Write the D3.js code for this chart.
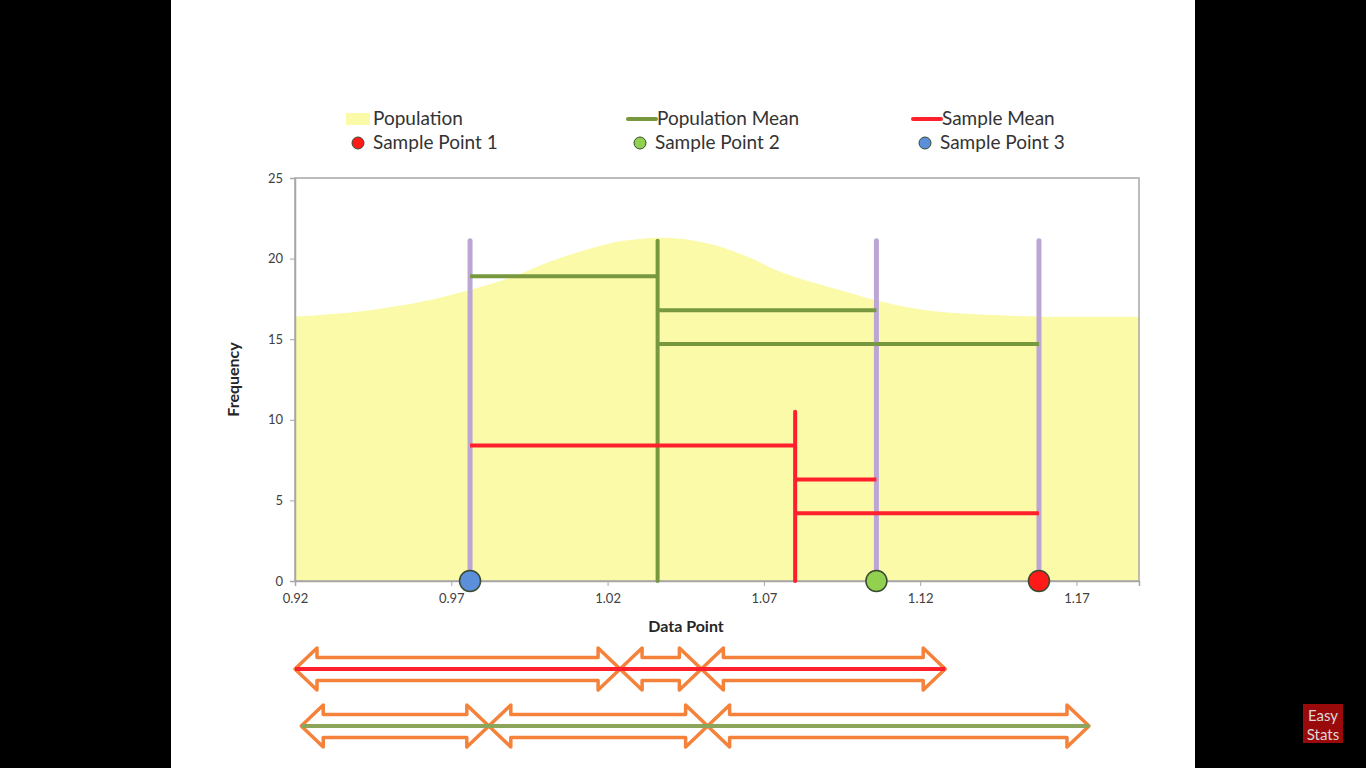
<!DOCTYPE html>
<html lang="en">

<head>
  <meta charset="utf-8">
  <title>Sample Mean vs Population Mean</title>
  <script src="https://d3js.org/d3.v7.min.js" charset="utf-8"></script>
  <style type="text/css">
    body {
      margin: 0;
      background: #000;
    }

    text {
      font-family: Lato, "Liberation Sans", sans-serif;
    }

    .tick text {
      font-size: 13px;
      fill: #404040;
    }

    .tick line,
    .domain {
      stroke: #a6a6a6;
    }
  </style>
</head>

<body>

  <svg id="chart"></svg>

  <script type="text/javascript">
    // population curve
    const popX = [0.92, 0.94, 0.96, 0.975, 0.99, 1.00, 1.014, 1.025, 1.037, 1.045, 1.055, 1.065, 1.075, 1.086, 1.097, 1.106, 1.122, 1.143, 1.16, 1.19];
    const popY = [16.4, 16.7, 17.3, 18.0, 18.9, 19.7, 20.6, 21.1, 21.3, 21.2, 20.8, 20.1, 19.2, 18.5, 17.9, 17.4, 16.8, 16.5, 16.4, 16.4];

    const sampleNames = ["Sample Point 1", "Sample Point 2", "Sample Point 3"];
    const sampleX = [1.158, 1.106, 0.976];
    const sampleColors = ["#ff1a1a", "#92d050", "#5b8fd9"];

    const popMean = 1.036;
    const sampleMean = 1.080;
    const stemTop = 21.1;
    const sampleMeanTop = 10.5;

    // distance bars: order blue, green, red
    const barOrder = [2, 1, 0];
    const popBarY = [18.9, 16.8, 14.7];
    const sampleBarY = [8.4, 6.3, 4.2];

    const xTicks = [0.92, 0.97, 1.02, 1.07, 1.12, 1.17];
    const yTicks = [0, 5, 10, 15, 20, 25];

    const W = 1366, H = 768;
    const plotL = 295, plotR = 1139, plotT = 178, plotB = 581;

    const green = "#77983f";
    const red = "#ff1f2d";
    const purple = "#bba6d6";
    const orange = "#f5823a";

    const svg = d3.select("#chart")
      .attr("width", W)
      .attr("height", H);

    svg.append("rect").attr("width", W).attr("height", H).attr("fill", "#000");
    svg.append("rect").attr("x", 171).attr("width", 1024).attr("height", H).attr("fill", "#fff");

    const x = d3.scaleLinear().domain([0.92, 1.19]).range([plotL, plotR]);
    const y = d3.scaleLinear().domain([0, 25]).range([plotB, plotT]);

    // population area
    const area = d3.area()
      .x(d => x(d[0]))
      .y0(y(0))
      .y1(d => y(d[1]))
      .curve(d3.curveCatmullRom.alpha(0.5));

    svg.append("path")
      .datum(popX.map((v, i) => [v, popY[i]]))
      .attr("d", area)
      .attr("fill", "#fafaa9");

    // frame
    svg.append("rect")
      .attr("x", plotL).attr("y", plotT)
      .attr("width", plotR - plotL).attr("height", plotB - plotT)
      .attr("fill", "none").attr("stroke", "#a6a6a6").attr("stroke-width", 1.5);

    svg.append("g")
      .attr("transform", `translate(${plotL},0)`)
      .call(d3.axisLeft(y).tickValues(yTicks).tickSize(5).tickPadding(7))
      .call(g => g.select(".domain").attr("stroke-width", 1.5));

    svg.append("g")
      .attr("transform", `translate(0,${plotB})`)
      .call(d3.axisBottom(x).tickValues(xTicks).tickSize(5).tickPadding(8).tickFormat(d3.format(".2f")))
      .call(g => g.select(".domain").attr("stroke-width", 1.5));

    svg.append("text")
      .attr("transform", `translate(239,${(plotT + plotB) / 2}) rotate(-90)`)
      .attr("text-anchor", "middle")
      .attr("font-size", 16).attr("font-weight", "bold").attr("fill", "#262626")
      .text("Frequency");

    svg.append("text")
      .attr("x", 686).attr("y", 632)
      .attr("text-anchor", "middle")
      .attr("font-size", 16).attr("font-weight", "bold").attr("fill", "#262626")
      .text("Data Point");

    // purple stems
    svg.selectAll(".stem")
      .data(sampleX)
      .join("line")
      .attr("x1", d => x(d)).attr("x2", d => x(d))
      .attr("y1", y(0)).attr("y2", y(stemTop))
      .attr("stroke", purple).attr("stroke-width", 5).attr("stroke-linecap", "round");

    // population mean
    svg.append("line")
      .attr("x1", x(popMean)).attr("x2", x(popMean))
      .attr("y1", y(0)).attr("y2", y(stemTop))
      .attr("stroke", green).attr("stroke-width", 4).attr("stroke-linecap", "round");

    svg.selectAll(".popbar")
      .data(barOrder)
      .join("line")
      .attr("x1", x(popMean))
      .attr("x2", d => x(sampleX[d]))
      .attr("y1", (d, i) => y(popBarY[i]))
      .attr("y2", (d, i) => y(popBarY[i]))
      .attr("stroke", green).attr("stroke-width", 4);

    // sample mean
    svg.append("line")
      .attr("x1", x(sampleMean)).attr("x2", x(sampleMean))
      .attr("y1", y(0)).attr("y2", y(sampleMeanTop))
      .attr("stroke", red).attr("stroke-width", 4).attr("stroke-linecap", "round");

    svg.selectAll(".sbar")
      .data(barOrder)
      .join("line")
      .attr("x1", x(sampleMean))
      .attr("x2", d => x(sampleX[d]))
      .attr("y1", (d, i) => y(sampleBarY[i]))
      .attr("y2", (d, i) => y(sampleBarY[i]))
      .attr("stroke", red).attr("stroke-width", 4);

    // sample points
    svg.selectAll(".pt")
      .data(sampleX)
      .join("circle")
      .attr("cx", d => x(d)).attr("cy", y(0)).attr("r", 10.5)
      .attr("fill", (d, i) => sampleColors[i])
      .attr("stroke", "#3a4a30").attr("stroke-width", 1.5);

    // legend
    const legend = svg.append("g");
    const legendCols = [346, 628, 913];
    const lg1 = [
      { label: "Population", type: "rect", color: "#fafaa9" },
      { label: "Population Mean", type: "line", color: green },
      { label: "Sample Mean", type: "line", color: red }
    ];
    lg1.forEach((d, i) => {
      const gx = legendCols[i];
      if (d.type === "rect") {
        legend.append("rect").attr("x", gx).attr("y", 113).attr("width", 24).attr("height", 12).attr("fill", d.color);
      } else {
        legend.append("line").attr("x1", gx).attr("x2", gx + 28).attr("y1", 119).attr("y2", 119)
          .attr("stroke", d.color).attr("stroke-width", 4).attr("stroke-linecap", "round");
      }
      legend.append("text").attr("x", gx + (i === 0 ? 27 : 29)).attr("y", 125)
        .attr("font-size", 19).attr("fill", "#333").text(d.label);
    });
    sampleNames.forEach((name, i) => {
      const gx = legendCols[i];
      legend.append("circle").attr("cx", gx + 12).attr("cy", 143).attr("r", 6)
        .attr("fill", sampleColors[i]).attr("stroke", "#3a4a30").attr("stroke-width", 1);
      legend.append("text").attr("x", gx + 27).attr("y", 149)
        .attr("font-size", 19).attr("fill", "#333").text(name);
    });

    // distance arrows laid end to end
    function arrowPath(x0, x1, cy) {
      const h = 22, big = 21, s = 11.5;
      return `M${x0},${cy} L${x0 + h},${cy - big} L${x0 + h},${cy - s} L${x1 - h},${cy - s} L${x1 - h},${cy - big}` +
        ` L${x1},${cy} L${x1 - h},${cy + big} L${x1 - h},${cy + s} L${x0 + h},${cy + s} L${x0 + h},${cy + big} Z`;
    }

    function arrowRow(center, startPx, cy, color) {
      let pos = startPx;
      const spans = barOrder.map(d => {
        const len = Math.abs(x(sampleX[d]) - x(center));
        const s = [pos, pos + len];
        pos += len;
        return s;
      });
      svg.selectAll(null)
        .data(spans)
        .join("path")
        .attr("d", d => arrowPath(d[0], d[1], cy))
        .attr("fill", "none").attr("stroke", orange).attr("stroke-width", 3.5).attr("stroke-linejoin", "round");
      svg.append("line")
        .attr("x1", startPx).attr("x2", pos).attr("y1", cy).attr("y2", cy)
        .attr("stroke", color).attr("stroke-width", 4);
    }

    arrowRow(sampleMean, x(0.92), 669, red);
    arrowRow(popMean, x(0.922), 726, "#8ba55a");

    // logo
    svg.append("rect").attr("x", 1303).attr("y", 704).attr("width", 40).attr("height", 39).attr("fill", "#9b0a0a");
    svg.append("text").attr("x", 1323).attr("y", 721).attr("text-anchor", "middle")
      .attr("fill", "#d9d9d9").attr("font-family", "DejaVu Sans, sans-serif").attr("font-size", 15).text("Easy");
    svg.append("text").attr("x", 1323).attr("y", 740).attr("text-anchor", "middle")
      .attr("fill", "#d9d9d9").attr("font-family", "DejaVu Sans, sans-serif").attr("font-size", 15).text("Stats");
  </script>
</body>

</html>
